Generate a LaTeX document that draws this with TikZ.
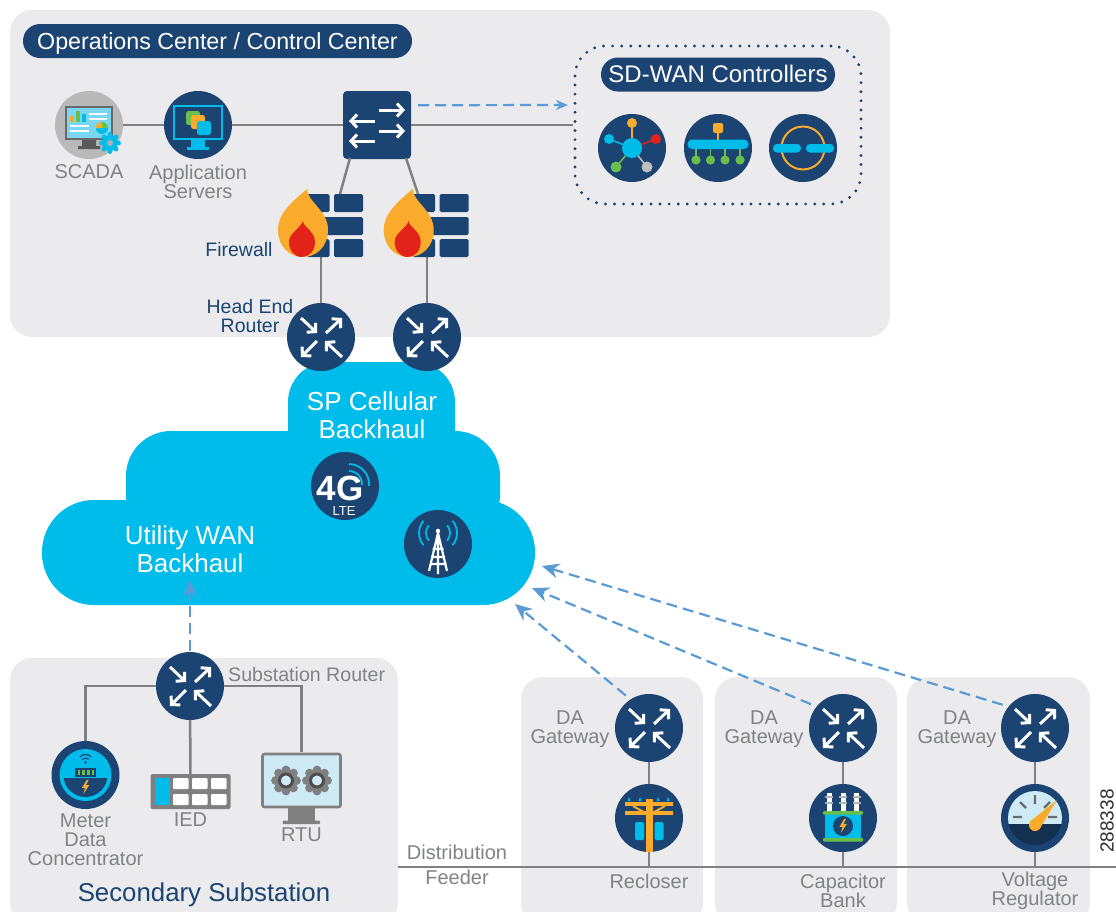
\documentclass[tikz,border=0pt]{standalone}
\usepackage{fontspec}
\setmainfont{Liberation Sans}
\usetikzlibrary{arrows.meta}
\definecolor{navy}{HTML}{1B4472}
\definecolor{skyc}{HTML}{00BCEB}
\definecolor{panelc}{HTML}{EBEBED}
\definecolor{wirec}{HTML}{808080}
\definecolor{textc}{HTML}{808285}
\definecolor{dashc}{HTML}{5B9BD5}
\definecolor{orangec}{HTML}{FBAB2C}
\definecolor{redc}{HTML}{E2231A}
\definecolor{greenc}{HTML}{6ABF4B}
\definecolor{palec}{HTML}{CDEAF5}
\definecolor{darkc}{HTML}{4D4D4F}
\tikzset{
	every pic/.style={yscale=-1},
	panel/.style={fill=panelc,rounded corners=22pt},
	router/.style={circle,fill=navy,minimum size=68pt,inner sep=0pt},
	lbl/.style={text=textc,align=center,inner sep=0pt,font=\fontsize{20}{19}\selectfont},
	bluelbl/.style={lbl,text=navy,font=\fontsize{19.5}{19}\selectfont},
	cloudlbl/.style={lbl,text=white,font=\fontsize{26}{28}\selectfont},
	pill/.style={fill=navy,text=white,rounded corners=17pt,minimum height=34pt,inner sep=0pt,text height=16.5pt,text depth=0pt,font=\fontsize{23.25}{23.25}\selectfont},
	wire/.style={draw=wirec,line width=2.5pt},
	dashlink/.style={draw=dashc,line width=2.2pt,dash pattern=on 11pt off 6pt},
	dasharrow/.style={dashlink,-{Stealth[length=17pt,width=15pt]}},
	whitearrow/.style={draw=white,line width=3pt,-{Straight Barb[length=6pt,width=13pt]}},
	routerarrows/.pic={
		\draw[whitearrow] (-20,-19) -- (-4,-4);
		\draw[whitearrow] (5,-4) -- (21,-19);
		\draw[whitearrow] (-4,4) -- (-20,20);
		\draw[whitearrow] (21,20) -- (4,4);
	},
	switcharrows/.pic={
		\draw[whitearrow] (2,-15) -- (28,-15);
		\draw[whitearrow] (-2,-4) -- (-28,-4);
		\draw[whitearrow] (2,6) -- (28,6);
		\draw[whitearrow] (-2,16) -- (-28,16);
	},
	bolt/.pic={
		\fill[orangec] (1.5,-8) -- (-4,1) -- (-0.5,1) -- (-2.5,8) -- (4,-2) -- (0.5,-2) -- (3.5,-8) -- cycle;
	},
	firewall/.pic={
		\foreach \y in {-31.5,13.5} {
			\fill[navy,rounded corners=1.5pt] (-28.5,\y) rectangle (-6,\y+18);
			\fill[navy,rounded corners=1.5pt] (-1.5,\y) rectangle (27.5,\y+18);
		}
		\fill[navy,rounded corners=1.5pt] (-18,-8.5) rectangle (27.5,9.5);
		\begin{scope}[shift={(-28.5,-36.5)}]
			\fill[orangec] (0,0) .. controls (1,9) and (8,14) .. (13,21) .. controls (18,27) and (21,33) .. (21,41)
				.. controls (21,58) and (9,68) .. (-4,68) .. controls (-18,68) and (-29,57) .. (-29,41)
				.. controls (-29,24) and (-14,12) .. (0,0) -- cycle;
			\fill[redc] (-4,32) .. controls (-4,38) and (8,42) .. (8,53) .. controls (8,62) and (2,68) .. (-5,68)
				.. controls (-13,68) and (-18,61) .. (-18,53) .. controls (-18,44) and (-7,40) .. (-4,32) -- cycle;
		\end{scope}
	},
	scadaicon/.pic={
		\fill[gray!70!black] (-7,14) -- (7,14) -- (7,21) -- (11,21) -- (11,24) -- (-11,24) -- (-11,21) -- (-7,21) -- cycle;
		\fill[darkc!85] (-24,-19.5) rectangle (24,14.5);
		\fill[palec!60!skyc] (-22,-17.5) rectangle (22,12.5);
		\fill[orangec] (-19,-9) rectangle (-15,-3);
		\fill[greenc] (-13.5,-14) rectangle (-9,-3);
		\fill[skyc] (-7.5,-11) rectangle (-3,-3);
		\foreach \y in {1,6}
			\draw[white!80!palec,line width=1.5pt] (-19,\y) -- (0,\y);
		\foreach \y in {-11,-6}
			\draw[white!80!palec,line width=1.5pt] (0,\y) -- (18,\y);
		\fill[greenc] (13,3) circle (6);
		\fill[skyc] (7,3) -- (19,3) arc (0:180:6) -- cycle;
		\fill[orangec] (13,3) -- (7,3) arc (180:270:6) -- cycle;
		\foreach \a in {0,45,...,315}
			\fill[skyc] (21,18) ++(\a:8.5) circle (2.4);
		\fill[skyc] (21,18) circle (8);
		\fill[gray!60] (21,18) circle (3);
	},
	appicon/.pic={
		\draw[skyc,line width=2pt] (-24,-19) rectangle (24,14);
		\fill[skyc] (-7,15) rectangle (7,22);
		\fill[skyc] (-11,22) rectangle (11,25);
		\fill[greenc,rounded corners=2.5pt] (-12,-14) rectangle (2,0);
		\fill[orangec,rounded corners=2.5pt] (-7,-10) rectangle (7,4);
		\fill[skyc,rounded corners=2.5pt] (-1,-4) rectangle (13,10);
	},
	huballicon/.pic={
		\draw[orangec,line width=1.5pt] (0,0) -- (0,-25);
		\draw[redc,line width=1.5pt] (0,0) -- (24,-9);
		\draw[skyc,line width=1.5pt] (0,0) -- (-23,-9);
		\draw[greenc,line width=1.5pt] (0,0) -- (-16,19);
		\draw[gray!50,line width=1.5pt] (0,0) -- (15,19);
		\fill[skyc] (0,0) circle (10);
		\fill[orangec] (0,-25) circle (5);
		\fill[redc] (24,-9) circle (5);
		\fill[skyc] (-23,-9) circle (5);
		\fill[greenc] (-16,19) circle (5.5);
		\fill[gray!50] (15,19) circle (5.5);
	},
	treeicon/.pic={
		\draw[orangec,line width=1.5pt] (0,-20) -- (0,-4);
		\foreach \x in {-22,-7.5,7,22} {
			\draw[greenc,line width=1.5pt] (\x,0) -- (\x,12);
			\fill[greenc] (\x,12) circle (4.6);
		}
		\fill[skyc,rounded corners=4.5pt] (-30.5,-8.5) rectangle (30.5,1);
		\fill[orangec,rounded corners=2pt] (-5,-25) rectangle (5,-15);
	},
	ringicon/.pic={
		\draw[orangec,line width=2pt] (0,0) circle (21.5);
		\fill[skyc,rounded corners=4pt] (-30,-4) rectangle (-2,4.5);
		\fill[skyc,rounded corners=4pt] (3,-4) rectangle (31,4.5);
	},
	lteicon/.pic={
		\node[text=white,inner sep=0pt,font=\fontsize{35}{35}\bfseries\selectfont] at (-5,2) (fourg) {4G};
		\node[text=white,inner sep=0pt,font=\fontsize{13}{13}\selectfont] at (-1,25) (ltetext) {LTE};
		\draw[skyc,line width=1.8pt] (4,-22) arc (-90:5:20);
		\draw[skyc,line width=1.8pt] (4,-15) arc (-90:5:13);
	},
	towericon/.pic={
		\foreach \r in {12,19} {
			\draw[skyc,line width=1.8pt] ([shift={(140:\r)}]0,-11) arc (140:220:\r);
			\draw[skyc,line width=1.8pt] ([shift={(-40:\r)}]0,-11) arc (-40:40:\r);
		}
		\fill[white] (0,-13) circle (2.2);
		\draw[white,line width=2.2pt] (-9,27) -- (0,-11) -- (9,27) (0,-11) -- (0,30)
			(-5.5,5) -- (5.5,5) (-7,13) -- (7,13) (-8.5,20) -- (8.5,20);
	},
	metericon/.pic={
		\fill[skyc] (0,0) circle (26);
		\begin{scope}
			\clip (-30,3.5) rectangle (30,30);
			\fill[navy] (0,0) circle (22);
		\end{scope}
		\fill[navy] (-10.5,-7.5) rectangle (10.5,1.5);
		\foreach \x in {-8,-3.3,1.4,6}
			\fill[greenc] (\x,-5.5) rectangle (\x+2.8,-0.5);
		\fill[navy] (0,-12.5) circle (1.4);
		\draw[navy,line width=1.2pt] ([shift={(-135:4.5)}]0,-12.5) arc (-135:-45:4.5);
		\draw[navy,line width=1.2pt] ([shift={(-135:8)}]0,-12.5) arc (-135:-45:8);
		\pic[scale=0.9] at (0,12) {bolt};
	},
	iedicon/.pic={
		\fill[wirec,rounded corners=2pt] (-40,-17.5) rectangle (40,17.5);
		\fill[skyc] (-36,-13.5) rectangle (-20.5,13.5);
		\foreach \x in {-17.5,1.5,20.5}
			\foreach \y in {-13.5,2.5}
				\fill[white,rounded corners=1pt] (\x,\y) rectangle (\x+15.5,\y+11);
	},
	rtuicon/.pic={
		\fill[wirec] (-14,27) rectangle (13.5,41);
		\fill[wirec,rounded corners=1pt] (-19,40) rectangle (18.5,43.5);
		\draw[wirec,fill=palec,line width=2.6pt,rounded corners=2pt] (-39,-26.5) rectangle (39,26.5);
		\foreach \x in {-15.5,15.5} {
			\foreach \a in {0,45,...,315}
				\fill[wirec] (\x,0) ++(\a:10.5) circle (4.4);
			\fill[wirec] (\x,0) circle (10);
			\draw[darkc,fill=palec,line width=3pt] (\x,0) circle (6.5);
		}
	},
	reclosericon/.pic={
		\foreach \x in {-20,-9,9,19}
			\fill[skyc] (\x-1.5,-17) -- (\x,-21) -- (\x+1.5,-17) -- cycle;
		\fill[skyc,rounded corners=1.5pt] (-14,4) rectangle (-5,22);
		\fill[skyc,rounded corners=1.5pt] (5.5,4) rectangle (14.5,22);
		\draw[orangec,line width=2pt] (-16,-12) -- (0,-3) -- (16,-12);
		\fill[orangec] (-24,-16) rectangle (24,-12);
		\fill[orangec] (-24,-7) rectangle (24,-3);
		\fill[orangec] (-3.5,-19) rectangle (3.5,34);
	},
	capicon/.pic={
		\foreach \x in {-14,0,13.5} {
			\fill[white] (\x-2.5,-25) rectangle (\x+2.5,-7);
			\foreach \y in {-21,-15}
				\draw[gray!60,line width=1.4pt] (\x-4,\y) -- (\x+4,\y);
		}
		\fill[skyc] (-18,-4) rectangle (18,20);
		\fill[greenc,rounded corners=1pt] (-20,-7) rectangle (20,-3.5);
		\fill[greenc,rounded corners=1pt] (-20,20) rectangle (20,23.5);
		\fill[navy] (0,8) circle (10);
		\pic[scale=0.9] at (0,8) {bolt};
	},
	gaugeicon/.pic={
		\begin{scope}
			\clip (0,0) circle (27);
			\fill[palec] (-30,-30) rectangle (30,6);
			\fill[navy!70!black] (-30,6) rectangle (30,30);
		\end{scope}
		\draw[gray!60!darkc,line width=2.2pt] (0,-23) -- (0,-14) (-22,-1) -- (-13,-1) (22,-1) -- (13,-1)
			(-15,-16) -- (-9,-10) (15,-16) -- (9,-10);
		\fill[orangec] (21.7,-17.7) -- (4.5,11) -- (-4.5,3) -- cycle;
		\fill[orangec] (0,7) circle (6);
	},
}
\begin{document}
\begin{tikzpicture}[x=1pt,y=1pt,yscale=-1]
	\path[use as bounding box,clip] (0,0) rectangle (1116,911);
	
	% panels
	\fill[panel] (10,10) rectangle (890,337);
	\fill[panel] (10,658) rectangle (398,925);
	\fill[panel] (521,677) rectangle (703,925);
	\fill[panel] (715,677) rectangle (897,925);
	\fill[panel] (907,677) rectangle (1090,925);
	
	% cloud
	\fill[skyc,rounded corners=40pt] (288,362) rectangle (455,480);
	\fill[skyc,rounded corners=45pt] (126,431) rectangle (500,540);
	\fill[skyc,rounded corners=52pt] (42,500) rectangle (535,605);
	
	% operations center
	\node[pill,minimum width=389pt] at (217.5,41) (opstitle) {Operations Center / Control Center};
	\node[router,fill=gray!55] at (89,125) (scada) {};
	\node[router] at (198,125) (app) {};
	\node[fill=navy,rounded corners=4pt,minimum size=68pt,inner sep=0pt] at (377,125) (switch) {};
	\node[minimum width=57pt,minimum height=64pt,inner sep=0pt] at (335.5,225.5) (fwa) {};
	\node[minimum width=57pt,minimum height=64pt,inner sep=0pt] at (441.2,225.5) (fwb) {};
	\node[router] at (321,337) (hea) {};
	\node[router] at (427,337) (heb) {};
	\node[lbl] at (89,172) (scadalbl) {SCADA};
	\node[lbl] at (198,182) (applbl) {Application\\Servers};
	\node[bluelbl] at (239,250) (fwlbl) {Firewall};
	\node[bluelbl] at (250,316) (helbl) {Head End\\Router};
	
	% controllers
	\node[draw=navy,line width=3.2pt,line cap=round,dash pattern=on 0pt off 9.1pt,rounded corners=30pt,
		minimum width=286pt,minimum height=158pt] at (718,125) (ctrlbox) {};
	\node[pill,minimum width=234pt,font=\fontsize{24}{24}\selectfont] at (718,74.5) (ctrltitle) {SD-WAN Controllers};
	\node[router] at (632,148) (ctrla) {};
	\node[router] at (718,148) (ctrlb) {};
	\node[router] at (803,148) (ctrlc) {};
	
	% wan
	\node[cloudlbl] at (372,415) (splbl) {SP Cellular\\Backhaul};
	\node[cloudlbl] at (190,549) (wanlbl) {Utility WAN\\Backhaul};
	\node[router] at (345,486) (lte) {};
	\node[router] at (438,544) (tower) {};
	
	% secondary substation
	\node[router] at (190,686) (sub) {};
	\node[router] at (85.5,775) (meter) {};
	\node[minimum width=80pt,minimum height=35pt,inner sep=0pt] at (190.5,791.5) (ied) {};
	\node[minimum width=80pt,minimum height=56pt,inner sep=0pt] at (301.5,780.5) (rtu) {};
	\node[lbl,anchor=west,font=\fontsize{19.6}{19}\selectfont] at (228,674) (sublbl) {Substation Router};
	\node[lbl] at (85.5,840) (meterlbl) {Meter\\Data\\Concentrator};
	\node[lbl] at (190.5,820) (iedlbl) {IED};
	\node[lbl] at (301.5,835) (rtulbl) {RTU};
	\node[bluelbl,font=\fontsize{25.8}{25.8}\selectfont] at (204,895) (seclbl) {Secondary Substation};
	
	% distribution automation
	\node[router] at (649,728) (daa) {};
	\node[router] at (843,728) (dab) {};
	\node[router] at (1035,728) (dac) {};
	\node[router] at (649,818) (recl) {};
	\node[router] at (843,818) (capb) {};
	\node[router] at (1035,818) (volt) {};
	\node[lbl] at (570,729) (dalbla) {DA\\Gateway};
	\node[lbl] at (764,729) (dalblb) {DA\\Gateway};
	\node[lbl] at (957,729) (dalblc) {DA\\Gateway};
	\node[lbl] at (649,881) (recllbl) {Recloser};
	\node[lbl] at (843,891) (capblbl) {Capacitor\\Bank};
	\node[lbl] at (1035,891) (voltlbl) {Voltage\\Regulator};
	\node[lbl] at (457,865) (feedlbl) {Distribution\\[6pt]Feeder};
	\node[text=darkc!60!black,inner sep=0pt,rotate=90,font=\fontsize{19}{19}\selectfont] at (1107,821) (figid) {288338};
	
	% free ends of the links
	\coordinate (switchl) at (350,158);
	\coordinate (switchr) at (406,158);
	\coordinate (fwatop) at (340,194);
	\coordinate (fwbtop) at (418,194);
	\coordinate (fwabot) at (321,257);
	\coordinate (fwbbot) at (427,257);
	\coordinate (ctrlin) at (568,105);
	\coordinate (wanup) at (190,580);
	\coordinate (wana) at (515,604);
	\coordinate (wanb) at (532,588);
	\coordinate (wanc) at (542,566);
	\coordinate (feedstart) at (398,867);
	\coordinate (feedend) at (1116,867);
	\coordinate (meterturn) at (85.5,686);
	\coordinate (rtuturn) at (301.5,686);
	
	% links
	\path[wire] (scada) edge (app)
	(app) edge (switch)
	(switch) edge (ctrlbox)
	(switchl) edge (fwatop)
	(switchr) edge (fwbtop)
	(fwabot) edge (hea)
	(fwbbot) edge (heb)
	(sub) edge (ied)
	(daa) edge (recl)
	(dab) edge (capb)
	(dac) edge (volt)
	(feedstart) edge (feedend)
	(recl) edge (recl |- feedend)
	(capb) edge (capb |- feedend)
	(volt) edge (volt |- feedend);
	\draw[wire] (sub) -- (meterturn) -- (meter);
	\draw[wire] (sub) -- (rtuturn) -- (rtu);
	\draw[dashlink,-{Stealth[length=12pt,width=10pt]},shorten <=7pt] (switch.30.5) -- (ctrlin);
	\draw[dasharrow,shorten <=1pt] (sub) -- (wanup);
	\draw[dasharrow,shorten <=6pt] (daa.123) -- (wana);
	\draw[dasharrow,shorten <=6pt] (dab.141) -- (wanb);
	\draw[dasharrow,shorten <=6pt] (dac.141) -- (wanc);
	
	% icons
	\foreach \n in {hea,heb,sub,daa,dab,dac}
		\pic at (\n) {routerarrows};
	\pic at (switch) {switcharrows};
	\pic at (fwa) {firewall};
	\pic at (fwb) {firewall};
	\pic at (scada) {scadaicon};
	\pic at (app) {appicon};
	\pic at (ctrla) {huballicon};
	\pic at (ctrlb) {treeicon};
	\pic at (ctrlc) {ringicon};
	\pic at (lte) {lteicon};
	\pic at (tower) {towericon};
	\pic at (meter) {metericon};
	\pic at (ied) {iedicon};
	\pic at (rtu) {rtuicon};
	\pic at (recl) {reclosericon};
	\pic at (capb) {capicon};
	\pic at (volt) {gaugeicon};
\end{tikzpicture}
\end{document}
